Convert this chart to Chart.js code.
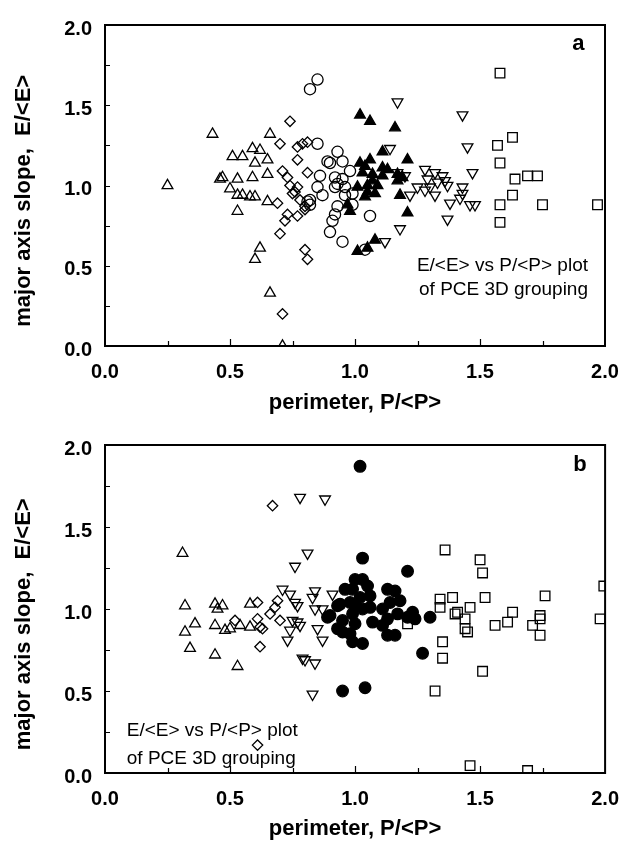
<!DOCTYPE html>
<html>
<head>
<meta charset="utf-8">
<script src="https://cdn.jsdelivr.net/npm/chart.js@4.4.1/dist/chart.umd.min.js"></script>
<style>
  html, body { margin: 0; padding: 0; background: #fff; }
  canvas { display: block; }
</style>
</head>
<body>
<canvas id="chartA" width="633" height="420"></canvas>
<canvas id="chartB" width="633" height="421"></canvas>
<script>
// ─── DATA ───
const xTickValues = [0, 0.5, 1.0, 1.5, 2.0];
const yTickValues = [0, 0.5, 1.0, 1.5, 2.0];
const xTitle = 'perimeter, P/<P>';
const yTitle = 'major axis slope,  E/<E>     ';
const noteLines = ['E/<E> vs P/<P> plot', 'of PCE 3D grouping'];

// panel a
const aOpenUp = [
  [0.25,1.00],[0.43,1.32],[0.46,1.04],[0.47,1.05],[0.50,0.98],[0.51,1.18],[0.55,1.18],
  [0.53,1.04],[0.53,0.94],[0.55,0.94],[0.53,0.84],[0.59,1.23],[0.60,1.14],[0.59,1.05],
  [0.58,0.93],[0.60,0.93],[0.62,1.22],[0.65,1.16],[0.65,1.07],[0.65,0.90],[0.66,1.32],
  [0.62,0.61],[0.60,0.54],[0.66,0.33],[0.71,0.00]
];
const aDiamond = [
  [0.74,1.40],[0.70,1.26],[0.77,1.24],[0.79,1.26],[0.81,1.27],[0.77,1.16],[0.81,1.08],
  [0.71,1.09],[0.73,1.05],[0.74,1.00],[0.77,0.99],[0.75,0.95],[0.76,0.96],[0.69,0.89],
  [0.78,0.91],[0.80,0.87],[0.80,0.85],[0.73,0.82],[0.72,0.78],[0.77,0.81],[0.70,0.70],
  [0.80,0.60],[0.81,0.54],[0.71,0.20]
];
const aCircle = [
  [0.85,1.66],[0.82,1.60],[0.85,1.26],[0.93,1.21],[0.89,1.15],[0.90,1.14],[0.95,1.15],
  [0.86,1.06],[0.92,1.05],[0.98,1.09],[0.95,1.04],[0.93,1.01],[0.85,0.99],[0.87,0.94],
  [0.82,0.91],[0.81,0.90],[0.82,0.88],[0.92,0.99],[0.96,0.99],[0.96,0.94],[0.99,0.95],
  [0.93,0.87],[0.99,0.88],[0.92,0.82],[0.91,0.78],[0.90,0.71],[0.95,0.65],[1.06,0.81],
  [1.04,0.60]
];
const aOpenDown = [
  [1.17,1.52],[1.43,1.44],[1.45,1.24],[1.14,1.23],[1.47,1.08],[1.28,1.10],[1.32,1.08],
  [1.35,1.06],[1.17,1.08],[1.20,1.06],[1.29,1.04],[1.33,1.02],[1.30,0.99],[1.25,0.99],
  [1.36,1.03],[1.37,1.00],[1.43,0.99],[1.22,0.94],[1.28,0.97],[1.32,0.94],[1.38,0.89],
  [1.42,0.92],[1.43,0.95],[1.46,0.88],[1.48,0.88],[1.37,0.79],[1.18,0.73],[1.12,0.65]
];
const aSquare = [
  [1.58,1.70],[1.63,1.30],[1.57,1.25],[1.58,1.14],[1.69,1.06],[1.73,1.06],[1.64,1.04],
  [1.63,0.94],[1.58,0.88],[1.58,0.77],[1.75,0.88],[1.97,0.88]
];
const aFilledUp = [
  [1.02,1.44],[1.06,1.40],[1.16,1.36],[1.11,1.21],[1.06,1.16],[1.02,1.14],[1.04,1.12],
  [1.11,1.11],[1.13,1.10],[1.21,1.16],[1.07,1.07],[1.03,1.08],[1.11,1.06],[1.17,1.07],
  [1.19,1.05],[1.07,1.03],[1.17,1.03],[1.01,0.99],[1.05,1.00],[1.09,1.00],[1.05,0.96],
  [1.04,0.93],[1.08,0.95],[1.18,0.94],[0.97,0.88],[0.98,0.84],[1.21,0.83],[1.08,0.66],
  [1.05,0.61],[1.01,0.59]
];

// panel b
const bOpenUp = [
  [0.31,1.34],[0.32,1.02],[0.32,0.86],[0.36,0.91],[0.34,0.76],[0.44,1.03],[0.45,1.00],
  [0.47,1.02],[0.44,0.90],[0.44,0.72],[0.48,0.87],[0.50,0.88],[0.54,0.90],[0.53,0.65],
  [0.58,1.03],[0.58,0.89]
];
const bDiamond = [
  [0.67,1.63],[0.61,1.04],[0.61,0.94],[0.62,0.89],[0.63,0.88],[0.62,0.77],[0.66,0.97],
  [0.69,1.05],[0.70,0.93],[0.68,1.01],[0.52,0.93],[0.61,0.17]
];
const bOpenDown = [
  [0.78,1.68],[0.88,1.67],[0.81,1.34],[0.76,1.26],[0.71,1.12],[0.74,1.09],[0.76,1.04],
  [0.77,1.02],[0.83,1.07],[0.84,1.11],[0.91,1.09],[0.84,1.00],[0.87,1.00],[0.75,0.93],
  [0.77,0.92],[0.78,0.90],[0.74,0.87],[0.73,0.81],[0.85,0.88],[0.87,0.81],[0.79,0.70],
  [0.80,0.69],[0.84,0.67],[0.83,0.48]
];
const bSquare = [
  [1.36,1.36],[1.50,1.30],[1.51,1.22],[1.995,1.14],[1.98,0.94],[1.34,1.06],[1.34,1.01],
  [1.39,1.07],[1.52,1.07],[1.76,1.08],[1.46,1.01],[1.41,0.98],[1.40,0.97],[1.44,0.94],
  [1.44,0.88],[1.45,0.86],[1.56,0.90],[1.61,0.92],[1.63,0.98],[1.71,0.90],[1.74,0.96],
  [1.74,0.94],[1.74,0.84],[1.35,0.80],[1.35,0.70],[1.51,0.62],[1.32,0.50],[1.46,0.045],
  [1.69,0.015],[1.21,0.91]
];
const bFilled = [
  [1.02,1.87],[1.03,1.31],[1.21,1.23],[1.00,1.18],[1.03,1.18],[1.05,1.14],[0.96,1.12],
  [0.99,1.12],[1.13,1.12],[1.16,1.11],[0.94,1.03],[0.98,1.04],[1.02,1.07],[1.06,1.08],
  [1.06,1.01],[1.11,1.00],[1.14,1.04],[1.18,1.05],[0.90,0.96],[0.99,0.97],[1.03,1.00],
  [1.23,0.98],[1.24,0.94],[1.21,0.95],[1.00,1.02],[0.95,0.93],[1.00,0.91],[1.07,0.92],
  [1.11,0.90],[1.13,0.94],[1.17,0.97],[1.30,0.95],[0.95,0.86],[0.98,0.85],[0.99,0.80],
  [1.03,0.79],[1.13,0.84],[1.16,0.84],[1.27,0.73],[1.04,0.52],[0.95,0.50],[0.89,0.95],
  [0.93,1.02],[0.93,0.88]
];

// ─── STYLE ───
const FONT = "'Liberation Sans', Arial, sans-serif";
const tickFont = { family: FONT, size: 20, weight: 'bold', lineHeight: 1.2 };
const titleFont = { family: FONT, size: 22, weight: 'bold', lineHeight: 1.0 };

const markers = {
  openUp:   { style: 'triangle', r: 6.2, rot: 0,   fill: 'rgba(0,0,0,0)' },
  filledUp: { style: 'triangle', r: 6.2, rot: 0,   fill: '#000' },
  openDown: { style: 'triangle', r: 6.2, rot: 180, fill: 'rgba(0,0,0,0)' },
  diamond:  { style: 'rectRot',  r: 5.2, rot: 0,   fill: 'rgba(0,0,0,0)' },
  circle:   { style: 'circle',   r: 5.6, rot: 0,   fill: 'rgba(0,0,0,0)' },
  square:   { style: 'rect',     r: 6.8, rot: 0,   fill: 'rgba(0,0,0,0)' },
  dot:      { style: 'circle',   r: 5.8, rot: 0,   fill: '#000' },
};

function makeSet(points, m) {
  return {
    data: points.map(([x, y]) => ({ x, y })),
    showLine: false,
    clip: 0,
    pointStyle: m.style,
    pointRadius: m.r,
    pointRotation: m.rot,
    pointBackgroundColor: m.fill,
    pointBorderColor: '#000',
    pointBorderWidth: 1.3,
  };
}

const isMajor = v => Math.abs(v * 2 - Math.round(v * 2)) < 1e-6;

// frame, inward ticks and in-plot notes
const decorPlugin = {
  id: 'decor',
  afterDraw(chart, args, opts) {
    const { ctx, chartArea: a, scales: { x, y } } = chart;
    ctx.save();
    ctx.strokeStyle = '#000';
    ctx.lineWidth = 1.2;
    ctx.beginPath();
    x.ticks.forEach(t => {
      if (t.value <= 0 || t.value >= 2) return;
      const px = Math.round(x.getPixelForValue(t.value)) + 0.5;
      const len = isMajor(t.value) ? 7 : 5;
      ctx.moveTo(px, a.bottom);
      ctx.lineTo(px, a.bottom - len);
    });
    y.ticks.forEach(t => {
      if (t.value <= 0 || t.value >= 2) return;
      const py = Math.round(y.getPixelForValue(t.value)) + 0.5;
      ctx.moveTo(a.left, py);
      ctx.lineTo(a.left + 5, py);
    });
    ctx.stroke();

    ctx.lineWidth = 2;
    ctx.strokeRect(a.left, a.top, a.right - a.left, a.bottom - a.top);

    ctx.fillStyle = '#000';
    ctx.textBaseline = 'middle';
    ctx.font = `bold 22px ${FONT}`;
    ctx.textAlign = 'center';
    ctx.fillText(opts.letter.text, x.getPixelForValue(opts.letter.x), y.getPixelForValue(opts.letter.y));

    ctx.font = `19px ${FONT}`;
    ctx.textAlign = opts.note.align;
    opts.note.lines.forEach((line, i) => {
      ctx.fillText(line, x.getPixelForValue(opts.note.x), y.getPixelForValue(opts.note.y[i]));
    });
    ctx.restore();
  }
};

function buildOptions(cfg) {
  return {
    responsive: false,
    animation: false,
    events: [],
    layout: { padding: cfg.padding },
    plugins: {
      legend: { display: false },
      tooltip: { enabled: false },
      decor: cfg.decor,
    },
    scales: {
      x: {
        type: 'linear', min: 0, max: 2,
        afterFit: s => { s.height = cfg.xHeight; },
        afterBuildTicks: s => { s.ticks = [0, 0.25, 0.5, 0.75, 1, 1.25, 1.5, 1.75, 2].map(v => ({ value: v })); },
        grid: { display: false, drawTicks: false },
        border: { display: false },
        ticks: {
          autoSkip: false, maxRotation: 0, padding: 14, color: '#000', font: tickFont,
          callback: v => xTickValues.some(t => Math.abs(t - v) < 1e-6) ? v.toFixed(1) : '',
        },
        title: { display: true, text: xTitle, color: '#000', font: titleFont, padding: { top: 0, bottom: cfg.xTitlePad } },
      },
      y: {
        type: 'linear', min: 0, max: 2,
        afterFit: s => { s.width = 105; },
        afterBuildTicks: s => { s.ticks = [0, 0.25, 0.5, 0.75, 1, 1.25, 1.5, 1.75, 2].map(v => ({ value: v })); },
        grid: { display: false, drawTicks: false },
        border: { display: false },
        ticks: {
          autoSkip: false, padding: 13, labelOffset: 4, color: '#000', font: tickFont,
          callback: v => yTickValues.some(t => Math.abs(t - v) < 1e-6) ? v.toFixed(1) : '',
        },
        title: { display: true, text: yTitle, color: '#000', font: titleFont, padding: { top: 13, bottom: 0 } },
      },
    },
  };
}

new Chart(document.getElementById('chartA'), {
  type: 'scatter',
  data: {
    datasets: [
      makeSet(aOpenUp, markers.openUp),
      makeSet(aDiamond, markers.diamond),
      makeSet(aCircle, markers.circle),
      makeSet(aOpenDown, markers.openDown),
      makeSet(aSquare, markers.square),
      makeSet(aFilledUp, markers.filledUp),
    ]
  },
  options: buildOptions({
    padding: { top: 15, right: 28, left: 0, bottom: 0 },
    xHeight: 74,
    xTitlePad: 6,
    decor: {
      letter: { text: 'a', x: 1.893, y: 1.88 },
      note: { lines: noteLines, align: 'right', x: 1.932, y: [0.50, 0.35] },
    },
  }),
  plugins: [decorPlugin],
});

new Chart(document.getElementById('chartB'), {
  type: 'scatter',
  data: {
    datasets: [
      makeSet(bOpenUp, markers.openUp),
      makeSet(bDiamond, markers.diamond),
      makeSet(bOpenDown, markers.openDown),
      makeSet(bSquare, markers.square),
      makeSet(bFilled, markers.dot),
    ]
  },
  options: buildOptions({
    padding: { top: 20, right: 27, left: 0, bottom: 0 },
    xHeight: 68,
    xTitlePad: 1,
    decor: {
      letter: { text: 'b', x: 1.90, y: 1.88 },
      note: { lines: noteLines, align: 'left', x: 0.087, y: [0.258, 0.084] },
    },
  }),
  plugins: [decorPlugin],
});
</script>
</body>
</html>
